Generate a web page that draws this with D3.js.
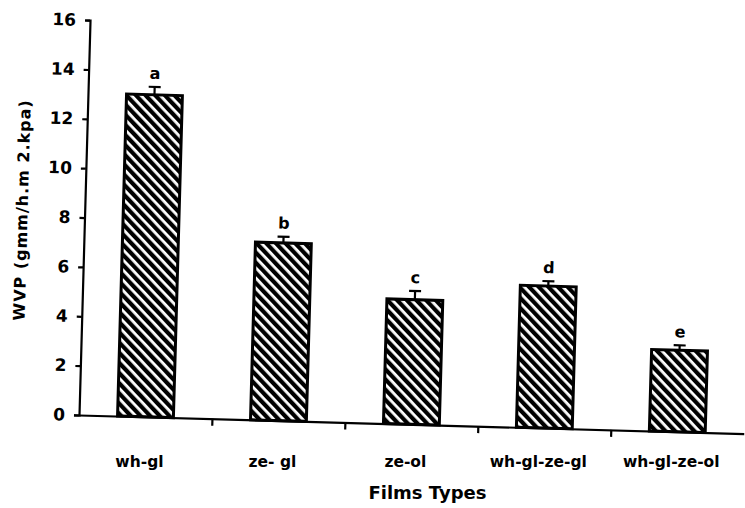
<!DOCTYPE html>
<html>
<head>
<meta charset="utf-8">
<script src="https://cdn.jsdelivr.net/npm/d3@7"></script>
<style>
  html, body { margin: 0; padding: 0; background: #fff; }
  svg { display: block; }
  text { font-family: "DejaVu Sans", "Liberation Sans", Arial, sans-serif; font-weight: bold; fill: #000; }
</style>
</head>
<body>
<svg id="chart" width="745" height="508"></svg>
<script>
// ---- data ----
const categories = ["wh-gl", "ze- gl", "ze-ol", "wh-gl-ze-gl", "wh-gl-ze-ol"];
const values = [13.05, 7.2, 5.05, 5.75, 3.3];
const errors = [0.32, 0.25, 0.35, 0.2, 0.2];
const letters = ["a", "b", "c", "d", "e"];
const yTicks = [0, 2, 4, 6, 8, 10, 12, 14, 16];
const yTitle = "WVP (gmm/h.m 2.kpa)";
const xTitle = "Films Types";

// ---- layout ----
const ox = 79, oy = 415;      // axis origin
const plotW = 665, plotH = 395;
const tilt = 1.6;             // scan tilt in degrees

const svg = d3.select("#chart");

const defs = svg.append("defs");
const pat = defs.append("pattern")
  .attr("id", "hatch")
  .attr("patternUnits", "userSpaceOnUse")
  .attr("width", 7).attr("height", 7)
  .attr("patternTransform", "rotate(-45)");
pat.append("rect").attr("width", 7).attr("height", 7).attr("fill", "#fff");
pat.append("rect").attr("x", 0).attr("y", 0).attr("width", 4.2).attr("height", 7).attr("fill", "#000");

const x = d3.scaleBand().domain(categories).range([0, plotW]).paddingInner(0.58).paddingOuter(0.29);
const y = d3.scaleLinear().domain([0, 16]).range([0, -plotH]);
const xb = d3.scaleLinear().domain([0, categories.length]).range([0, plotW]);

const g = svg.append("g").attr("transform", `translate(${ox},${oy}) rotate(${tilt})`);

// bars
g.selectAll("rect.bar").data(values).enter().append("rect")
  .attr("class", "bar")
  .attr("x", (d, i) => x(categories[i]))
  .attr("y", d => y(d))
  .attr("width", x.bandwidth())
  .attr("height", d => y(0) - y(d))
  .attr("fill", "url(#hatch)")
  .attr("stroke", "#000")
  .attr("stroke-width", 3);

// error bars (upper half)
const eb = g.selectAll("g.err").data(values).enter().append("g").attr("class", "err");
eb.append("line")
  .attr("x1", (d, i) => x(categories[i]) + x.bandwidth() / 2)
  .attr("x2", (d, i) => x(categories[i]) + x.bandwidth() / 2)
  .attr("y1", (d, i) => y(d))
  .attr("y2", (d, i) => y(d + errors[i]))
  .attr("stroke", "#000").attr("stroke-width", 2.2);
eb.append("line")
  .attr("x1", (d, i) => x(categories[i]) + x.bandwidth() / 2 - 6)
  .attr("x2", (d, i) => x(categories[i]) + x.bandwidth() / 2 + 6)
  .attr("y1", (d, i) => y(d + errors[i]))
  .attr("y2", (d, i) => y(d + errors[i]))
  .attr("stroke", "#000").attr("stroke-width", 2.2);

// significance letters
g.selectAll("text.sig").data(values).enter().append("text")
  .attr("class", "sig")
  .attr("x", (d, i) => x(categories[i]) + x.bandwidth() / 2)
  .attr("y", (d, i) => y(d + errors[i]) - 8)
  .attr("text-anchor", "middle")
  .style("font-size", "16px")
  .text((d, i) => letters[i]);

// y axis
const yAxis = g.append("g")
  .call(d3.axisLeft(y).tickValues(yTicks).tickSize(5).tickSizeOuter(5).tickPadding(9));
yAxis.selectAll("path, line").attr("stroke", "#000").attr("stroke-width", 2.2);
yAxis.selectAll("text").style("font-size", "17px").style("font-family", "DejaVu Sans").style("font-weight", "bold");

// x axis with boundary ticks
const xAxis = g.append("g")
  .call(d3.axisBottom(xb).tickValues(d3.range(1, categories.length)).tickSize(7).tickSizeOuter(0).tickFormat(""));
xAxis.selectAll("path, line").attr("stroke", "#000").attr("stroke-width", 2.2);

// category labels (horizontal in the scan)
const rad = tilt * Math.PI / 180;
svg.append("g").selectAll("text.cat").data(categories).enter().append("text")
  .attr("class", "cat")
  .attr("x", d => ox + (x(d) + x.bandwidth() / 2) * Math.cos(rad) - 6)
  .attr("y", oy + 52)
  .attr("text-anchor", "middle")
  .style("font-size", "15.5px")
  .text(d => d);

// x title
svg.append("text")
  .attr("x", ox + plotW / 2 + 16)
  .attr("y", oy + 84)
  .attr("text-anchor", "middle")
  .style("font-size", "18px")
  .text(xTitle);

// y title
g.append("text")
  .attr("transform", `translate(-57,${-plotH / 2 - 6}) rotate(-90)`)
  .attr("text-anchor", "middle")
  .style("font-size", "16px")
  .style("letter-spacing", "1px")
  .text(yTitle);
</script>
</body>
</html>
